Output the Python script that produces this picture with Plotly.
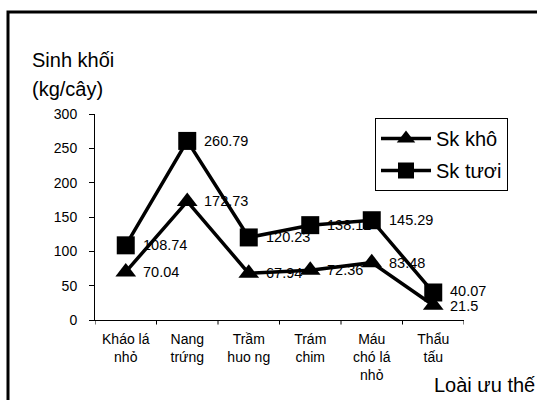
import plotly.graph_objects as go

# Loài ưu thế và sinh khối (kg/cây)
categories = ["Kháo lá<br>nhỏ", "Nang<br>trứng", "Trầm<br>huo ng", "Trám<br>chim", "Máu<br>chó lá<br>nhỏ", "Thẩu<br>tấu"]
sk_kho = [70.04, 172.73, 67.94, 72.36, 83.48, 21.5]
sk_tuoi = [108.74, 260.79, 120.23, 138.12, 145.29, 40.07]
y_ticks = [0, 50, 100, 150, 200, 250, 300]

FONT = "Liberation Sans, Arial, sans-serif"
x_idx = list(range(len(categories)))

# Plot area in pixels, used to convert paper coordinates
L, R, T, B, W, H = 95, 73, 114, 80, 537, 400
PW, PH = W - L - R, H - T - B


def px(x):
    return (x - L) / PW


def py(y):
    return (H - B - y) / PH


fig = go.Figure()
fig.add_trace(go.Scatter(
    x=x_idx, y=sk_kho, name="Sk khô", mode="lines+markers", legendgroup="kho",
    line=dict(color="black", width=3.5),
    marker=dict(symbol="triangle-up", size=18, color="black"),
))
fig.add_trace(go.Scatter(
    x=x_idx, y=sk_tuoi, name="Sk tươi", mode="lines+markers", legendgroup="tuoi",
    line=dict(color="black", width=3.5),
    marker=dict(symbol="square", size=18, color="black"),
))

annotations = []
for series, nudge in ((sk_kho, -1), (sk_tuoi, 1)):
    for i, v in enumerate(series):
        annotations.append(dict(
            x=i, y=v, xref="x", yref="y", text=str(v), showarrow=False,
            xanchor="left", yanchor="middle", xshift=15,
            yshift=nudge if i == len(series) - 1 else 0,
            font=dict(family=FONT, size=14.5, color="black"),
        ))

# Axis titles
annotations.append(dict(
    x=px(30), y=py(60), xref="paper", yref="paper", xanchor="left", yanchor="middle",
    text="Sinh khối", showarrow=False,
    font=dict(family=FONT, size=20, color="black"),
))
annotations.append(dict(
    x=px(30), y=py(89), xref="paper", yref="paper", xanchor="left", yanchor="middle",
    text="(kg/cây)", showarrow=False,
    font=dict(family=FONT, size=20, color="black"),
))
annotations.append(dict(
    x=px(537), y=py(385), xref="paper", yref="paper", xanchor="right", yanchor="middle",
    text="Loài ưu thế", showarrow=False,
    font=dict(family=FONT, size=20, color="black"),
))

# Outer frame: only its top and left edges fall inside the page
shapes = [
    dict(type="rect", xref="paper", yref="paper",
         x0=px(8), x1=px(700), y0=py(12), y1=py(600),
         line=dict(color="black", width=3), fillcolor="rgba(0,0,0,0)", layer="above"),
]

fig.update_layout(
    width=W, height=H,
    margin=dict(l=L, r=R, t=T, b=B),
    paper_bgcolor="white", plot_bgcolor="white",
    font=dict(family=FONT, size=14, color="black"),
    showlegend=True,
    legend=dict(
        x=px(375), y=py(118), xanchor="left", yanchor="top",
        bordercolor="black", borderwidth=1, bgcolor="white",
        font=dict(family=FONT, size=20, color="black"),
        itemwidth=50, tracegroupgap=3,
    ),
    annotations=annotations,
    shapes=shapes,
    xaxis=dict(
        range=[-0.5, len(categories) - 0.5],
        tickmode="array", tickvals=x_idx, ticktext=categories,
        showline=True, linecolor="black", linewidth=1,
        ticks="", showgrid=False, zeroline=False,
        ticklabelstandoff=6,
        tickfont=dict(family=FONT, size=14, color="black"),
    ),
    yaxis=dict(
        range=[0, 300], tickmode="array", tickvals=y_ticks,
        showline=True, linecolor="black", linewidth=1,
        ticks="outside", ticklen=5, tickcolor="black",
        ticklabelstandoff=9,
        showgrid=False, zeroline=False,
        tickfont=dict(family=FONT, size=14, color="black"),
    ),
)

# Tick marks on category boundaries along the x axis
for b in [i - 0.5 for i in range(len(categories) + 1)]:
    fig.add_shape(type="line", xref="x", yref="paper", x0=b, x1=b, y0=0, y1=-0.022,
                  line=dict(color="black", width=1))

fig.write_html("out.html")
